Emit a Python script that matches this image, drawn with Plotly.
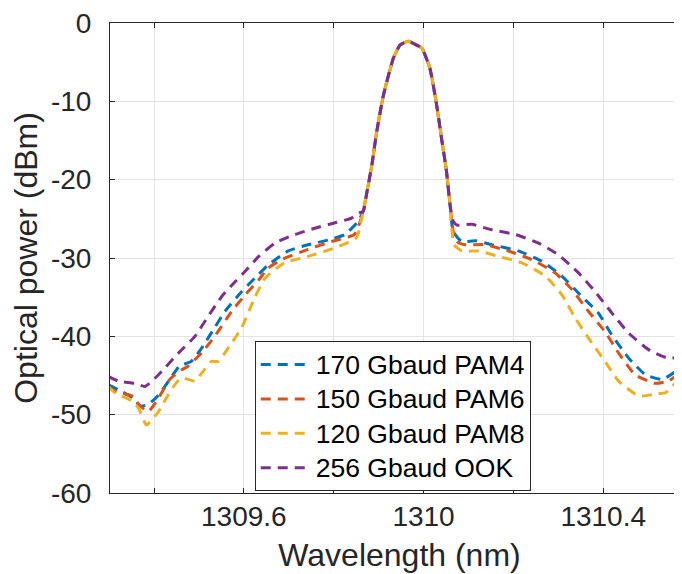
import plotly.graph_objects as go

# ---- data ----
wl_ook = [1309.298, 1309.320, 1309.357, 1309.380, 1309.410, 1309.455, 1309.491, 1309.521, 1309.551,
          1309.581, 1309.603, 1309.633, 1309.669, 1309.714, 1309.758, 1309.803, 1309.840, 1309.855,
          1309.866, 1309.873, 1309.885, 1309.896, 1309.911, 1309.933, 1309.948, 1309.966, 1309.984,
          1309.996, 1310.014, 1310.029, 1310.040, 1310.051, 1310.059, 1310.066, 1310.075, 1310.107,
          1310.152, 1310.204, 1310.256, 1310.300, 1310.345, 1310.382, 1310.419, 1310.457, 1310.501,
          1310.545, 1310.575, 1310.594]
p_ook = [-45.1, -45.7, -46.0, -46.4, -44.9, -42.1, -40.0, -37.4, -34.9,
         -33.0, -31.7, -29.8, -28.1, -27.0, -26.2, -25.5, -24.9, -24.3,
         -24.0, -21.9, -18.1, -13.8, -9.15, -4.47, -2.8, -2.34, -2.8,
         -3.19, -5.74, -10.4, -14.7, -18.9, -23.2, -25.3, -25.8, -25.7,
         -26.4, -27.0, -28.1, -29.6, -31.9, -34.3, -37.0, -39.6, -41.7,
         -42.8, -42.6, -42.3]

wl_pam4 = [1309.298, 1309.320, 1309.354, 1309.369, 1309.387, 1309.410, 1309.435, 1309.457, 1309.483,
           1309.506, 1309.535, 1309.558, 1309.595, 1309.624, 1309.654, 1309.699, 1309.743, 1309.788,
           1309.825, 1309.855, 1309.862,
           1309.866, 1309.873, 1309.885, 1309.896, 1309.911, 1309.933, 1309.948, 1309.966, 1309.984,
           1309.996, 1310.014, 1310.029, 1310.040, 1310.051, 1310.059, 1310.066, 1310.085, 1310.115,
           1310.152, 1310.211, 1310.263, 1310.308, 1310.352, 1310.389, 1310.419, 1310.457, 1310.494,
           1310.531, 1310.561, 1310.594]
p_pam4 = [-46.2, -46.8, -47.9, -48.9, -48.7, -47.5, -45.5, -43.8, -43.2,
          -41.5, -38.9, -36.8, -34.3, -32.6, -30.9, -29.1, -28.3, -27.7,
          -27.0, -25.3, -24.5,
          -24.0, -21.9, -18.1, -13.8, -9.15, -4.47, -2.8, -2.34, -2.8,
          -3.19, -5.74, -10.4, -14.7, -18.9, -23.2, -26.6, -27.9, -27.8,
          -28.3, -29.1, -30.4, -32.3, -34.9, -37.0, -39.8, -42.8, -44.9,
          -45.5, -44.5, -43.0]

wl_pam6 = [1309.298, 1309.313, 1309.354, 1309.366, 1309.387, 1309.410, 1309.435, 1309.461, 1309.476,
           1309.506, 1309.535, 1309.573, 1309.603, 1309.633, 1309.654, 1309.684, 1309.743, 1309.795,
           1309.846, 1309.858,
           1309.866, 1309.873, 1309.885, 1309.896, 1309.911, 1309.933, 1309.948, 1309.966, 1309.984,
           1309.996, 1310.014, 1310.029, 1310.040, 1310.051, 1310.059, 1310.066, 1310.074, 1310.092,
           1310.137, 1310.189, 1310.241, 1310.293, 1310.330, 1310.367, 1310.404, 1310.434, 1310.471,
           1310.515, 1310.545, 1310.575, 1310.594]
p_pam6 = [-46.4, -47.0, -47.7, -48.7, -49.6, -47.9, -45.5, -44.3, -43.8,
          -42.1, -40.0, -36.8, -34.7, -32.8, -31.3, -30.2, -28.9, -27.9,
          -27.0, -25.5,
          -24.0, -21.9, -18.1, -13.8, -9.15, -4.47, -2.8, -2.34, -2.8,
          -3.19, -5.74, -10.4, -14.7, -18.9, -23.2, -26.6, -27.9, -28.3,
          -28.3, -29.1, -30.2, -31.9, -34.0, -36.8, -39.4, -42.1, -44.9,
          -46.0, -45.7, -44.5, -43.4]

wl_pam8 = [1309.298, 1309.313, 1309.352, 1309.366, 1309.383, 1309.410, 1309.427, 1309.446, 1309.461,
           1309.491, 1309.506, 1309.528, 1309.543, 1309.565, 1309.595, 1309.624, 1309.647, 1309.691,
           1309.743, 1309.803, 1309.851, 1309.860,
           1309.866, 1309.873, 1309.885, 1309.896, 1309.911, 1309.933, 1309.948, 1309.966, 1309.984,
           1309.996, 1310.014, 1310.029, 1310.040, 1310.051, 1310.059, 1310.068, 1310.085, 1310.122,
           1310.167, 1310.218, 1310.271, 1310.308, 1310.338, 1310.367, 1310.404, 1310.434, 1310.479,
           1310.523, 1310.539, 1310.568, 1310.590]
p_pam8 = [-46.4, -47.2, -48.3, -49.2, -51.3, -49.6, -47.9, -46.2, -45.3,
          -45.7, -44.7, -43.2, -43.2, -41.5, -38.9, -35.1, -32.6, -30.6,
          -29.8, -28.7, -27.4, -25.5,
          -24.0, -21.9, -18.1, -13.8, -9.15, -4.47, -2.8, -2.34, -2.8,
          -3.19, -5.74, -10.4, -14.7, -18.9, -23.2, -28.3, -29.1, -29.1,
          -29.8, -30.6, -32.3, -34.7, -37.7, -40.2, -43.2, -45.7, -47.6,
          -47.3, -47.2, -45.5, -44.0]

series_names = ["170 Gbaud PAM4", "150 Gbaud PAM6", "120 Gbaud PAM8", "256 Gbaud OOK"]
series_colors = ["#0072BD", "#D95319", "#EDB120", "#7E2F8E"]

x_tick_vals = [1309.4, 1309.6, 1309.8, 1310.0, 1310.2, 1310.4]
x_tick_text = ["", "1309.6", "", "1310", "", "1310.4"]
y_tick_vals = [-60, -50, -40, -30, -20, -10, 0]
y_tick_text = ["-60", "-50", "-40", "-30", "-20", "-10", "0"]

# ---- figure ----
FONT = "Liberation Sans, Arial, Helvetica, sans-serif"
AX = "#262626"

fig = go.Figure()
data = [(wl_pam4, p_pam4), (wl_pam6, p_pam6), (wl_pam8, p_pam8), (wl_ook, p_ook)]
for (xs, ys), name, col in zip(data, series_names, series_colors):
    fig.add_trace(go.Scatter(
        x=xs, y=ys, mode="lines",
        name='<span style="font-size:26.5px">' + name + '</span>',
        line=dict(color=col, width=3, dash="10px,7px", shape="spline", smoothing=0.5),
    ))

fig.update_layout(
    width=682, height=574,
    margin=dict(l=102, r=1, t=15, b=89),
    paper_bgcolor="white", plot_bgcolor="white",
    font=dict(family=FONT, color=AX, size=28),
    showlegend=True,
    legend=dict(
        x=0.25, y=0.323, xanchor="left", yanchor="top",
        bgcolor="white", bordercolor=AX, borderwidth=1,
        font=dict(family=FONT, size=24.2, color="black"),
        itemwidth=50, tracegroupgap=0,
    ),
)
fig.update_xaxes(
    range=[1309.302, 1310.591],
    tickvals=x_tick_vals, ticktext=x_tick_text,
    ticks="inside", ticklen=5, tickcolor=AX, tickwidth=1,
    showline=True, linecolor=AX, linewidth=1, mirror="ticks",
    showgrid=True, gridcolor="#E3E3E3", gridwidth=1, zeroline=False,
    tickfont=dict(size=28, color=AX), ticklabelstandoff=-2,
    title=dict(text="Wavelength (nm)", font=dict(size=32, color=AX), standoff=13),
)
fig.update_yaxes(
    range=[-60, 0],
    tickvals=y_tick_vals, ticktext=y_tick_text,
    ticks="inside", ticklen=5, tickcolor=AX, tickwidth=1,
    showline=True, linecolor=AX, linewidth=1, mirror="ticks",
    showgrid=True, gridcolor="#E3E3E3", gridwidth=1, zeroline=False,
    tickfont=dict(size=28, color=AX), ticklabelstandoff=12, ticklabeloverflow="allow",
    title=dict(text="Optical power (dBm)", font=dict(size=32, color=AX), standoff=4),
)

fig.write_html("out.html")
